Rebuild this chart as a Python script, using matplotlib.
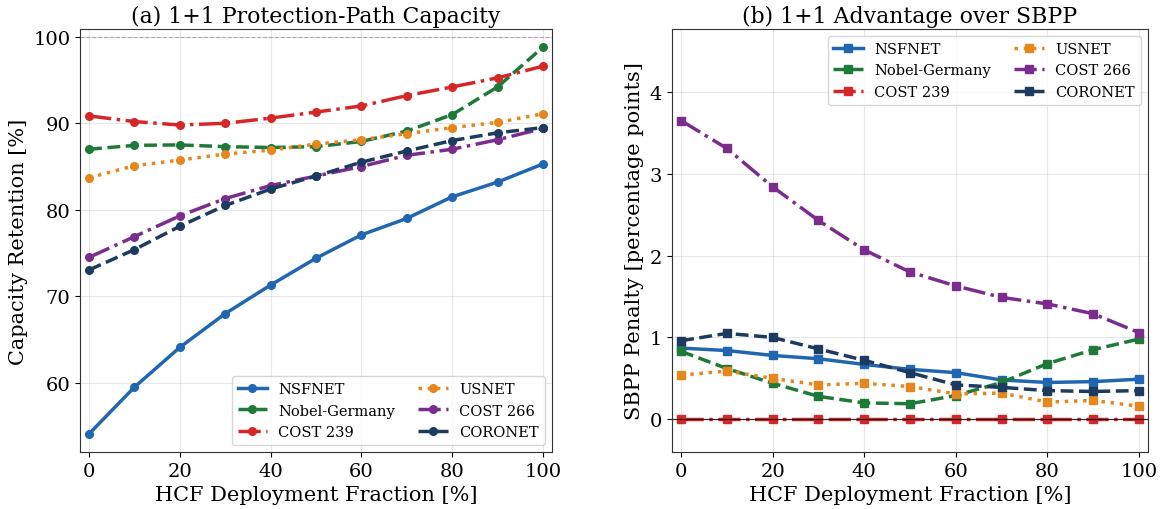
import numpy as np
import matplotlib
matplotlib.use('Agg')
import matplotlib.pyplot as plt

# HCF deployment fraction
frac = [0, 10, 20, 30, 40, 50, 60, 70, 80, 90, 100]

names = ['NSFNET', 'Nobel-Germany', 'COST 239', 'USNET', 'COST 266', 'CORONET']
colors = ['#2166b0', '#1f7a3a', '#d62728', '#e6861c', '#7b2d8e', '#1d3a5f']
styles = ['-', '--', '-.', ':', '-.', '--']

# (a) capacity retention [%]
ret_nsfnet = [54.1, 59.5, 64.1, 68.0, 71.3, 74.4, 77.1, 79.0, 81.5, 83.2, 85.3]
ret_nobel = [87.0, 87.45, 87.5, 87.3, 87.2, 87.3, 87.9, 89.1, 91.0, 94.2, 98.8]
ret_cost239 = [90.85, 90.2, 89.8, 90.0, 90.6, 91.3, 92.0, 93.2, 94.2, 95.25, 96.6]
ret_usnet = [83.7, 85.1, 85.75, 86.45, 86.9, 87.6, 88.1, 88.8, 89.5, 90.1, 91.1]
ret_cost266 = [74.5, 76.9, 79.3, 81.3, 82.8, 83.9, 85.0, 86.3, 87.0, 88.1, 89.4]
ret_coronet = [73.05, 75.4, 78.1, 80.5, 82.4, 83.9, 85.5, 86.8, 88.0, 88.9, 89.5]

# (b) SBPP penalty [percentage points]
pen_nsfnet = [0.87, 0.84, 0.78, 0.74, 0.67, 0.61, 0.57, 0.48, 0.45, 0.46, 0.49]
pen_nobel = [0.83, 0.62, 0.44, 0.28, 0.20, 0.19, 0.29, 0.45, 0.68, 0.85, 0.98]
pen_cost239 = [0, 0, 0, 0, 0, 0, 0, 0, 0, 0, 0]
pen_usnet = [0.54, 0.59, 0.50, 0.42, 0.44, 0.40, 0.31, 0.32, 0.21, 0.23, 0.16]
pen_cost266 = [3.65, 3.31, 2.84, 2.43, 2.07, 1.80, 1.63, 1.49, 1.41, 1.29, 1.06]
pen_coronet = [0.96, 1.05, 1.00, 0.86, 0.72, 0.57, 0.42, 0.39, 0.35, 0.34, 0.35]

ret = [ret_nsfnet, ret_nobel, ret_cost239, ret_usnet, ret_cost266, ret_coronet]
pen = [pen_nsfnet, pen_nobel, pen_cost239, pen_usnet, pen_cost266, pen_coronet]

plt.rcParams['font.family'] = 'DejaVu Serif'

fig = plt.figure(figsize=(11.63, 5.1), dpi=100)
ax1 = fig.add_axes([80 / 1163, 57 / 510, 472 / 1163, 423 / 510])
ax2 = fig.add_axes([672 / 1163, 57 / 510, 476 / 1163, 423 / 510])

for i in range(6):
    ax1.plot(frac, ret[i], color=colors[i], linestyle=styles[i], marker='o',
             markersize=5.5, linewidth=2.5, label=names[i])
    ax2.plot(frac, pen[i], color=colors[i], linestyle=styles[i], marker='s',
             markersize=5.5, linewidth=2.5, label=names[i])

ax1.axhline(100, color='gray', linestyle='--', linewidth=0.8, alpha=0.6)
ax2.axhline(0, color='black', linewidth=0.9, alpha=0.8)

ax1.set_ylim(52, 100.9)
ax2.set_ylim(-0.4, 4.77)
for ax in (ax1, ax2):
    ax.set_xlim(-2, 102)
    ax.set_xticks([0, 20, 40, 60, 80, 100])
    ax.grid(True, alpha=0.3)
    ax.tick_params(labelsize=14)
    ax.set_xlabel('HCF Deployment Fraction [%]', fontsize=15)
    for s in ax.spines.values():
        s.set_color('#333333')

ax1.set_yticks([60, 70, 80, 90, 100])
ax2.set_yticks([0, 1, 2, 3, 4])
ax1.set_ylabel('Capacity Retention [%]', fontsize=15)
ax2.set_ylabel('SBPP Penalty [percentage points]', fontsize=15)
ax1.set_title('(a) 1+1 Protection-Path Capacity', fontsize=15.8, pad=5)
ax2.set_title('(b) 1+1 Advantage over SBPP', fontsize=15.8, pad=5)

ax1.legend(loc='lower right', ncol=2, fontsize=10.5, columnspacing=1.6)
ax2.legend(loc='upper right', ncol=2, fontsize=10.5, columnspacing=1.6)

fig.savefig('out.png', dpi=100)
